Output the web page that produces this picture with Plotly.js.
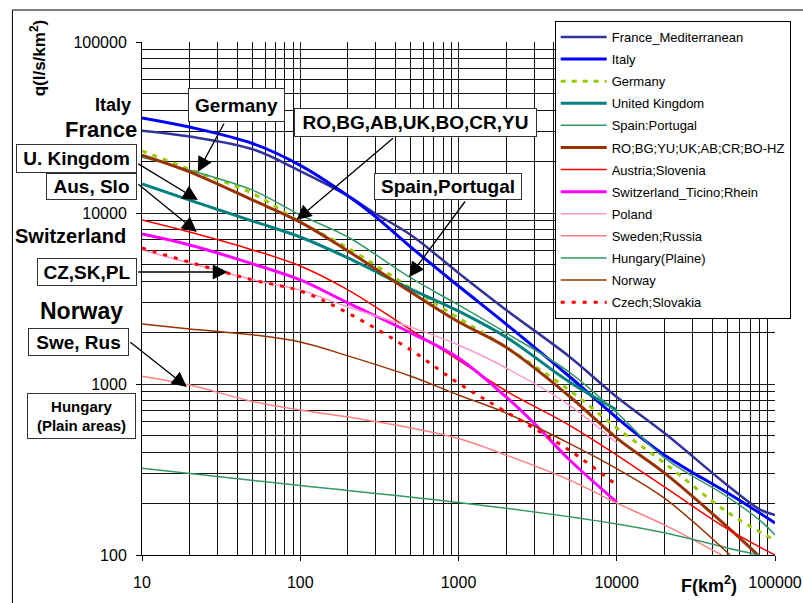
<!DOCTYPE html>
<html><head><meta charset="utf-8">
<script src="https://cdn.plot.ly/plotly-3.0.1.min.js"></script>
<style>html,body{margin:0;padding:0;background:#fff}#chart{width:803px;height:603px}</style>
</head><body><div id="chart"></div>
<script>
// ---- data (F in km2, q in l/s/km2) ----
const franceF  = [10,20,50,100,200,300,500,1000,2000,5000,10000,20000,50000,80000,100000];
const franceQ  = [30300,28000,23600,17600,12600,9900,7430,4460,2710,1450,840,517,256,185,171];
const italyF   = [10,20,50,100,200,300,500,1000,2000,5000,10000,20000,50000,80000,100000];
const italyQ   = [36000,31800,25500,19000,12600,9500,6320,3740,2240,1110,635,385,231,176,154];
const germanyF = [10,20,50,100,200,500,1000,2000,5000,10000,20000,50000,100000];
const germanyQ = [23100,18000,13000,8850,6240,3640,2430,1640,922,553,345,178,122];
const ukF      = [10,20,50,100,200,500,1000,2000,5000,10000];
const ukQ      = [14800,11900,8970,7240,5460,3590,2670,1880,1030,705];
const spainF   = [10,20,50,100,200,500,1000,2000,5000,10000,20000,50000,80000,100000];
const spainQ   = [21200,17800,13600,9730,7240,4170,2900,1990,1175,680,370,219,160,131];
const roF      = [10,20,50,100,200,500,1000,2000,5000,10000,20000,50000,78000];
const roQ      = [21800,17400,11900,8850,6000,3450,2310,1640,851,483,302,146,100];
const austriaF = [10,20,50,100,200,500,1000,2000,5000,10000,20000,50000,100000];
const austriaQ = [9100,7740,6080,4900,3550,2070,1380,910,575,384,250,142,100];
const swissF   = [10,20,50,100,200,500,1000,2000,3000,5000,10000];
const swissQ   = [7530,6500,5040,4060,2980,1990,1420,840,590,362,204];
const polandF  = [10,20,50,100,200,500,1000,2000,5000,10000];
const polandQ  = [6080,5100,4080,3550,2820,2150,1690,1240,753,452];
const swedenF  = [10,20,50,100,200,500,1000,2000,5000,10000,20000,46000];
const swedenQ  = [1110,986,790,705,641,553,480,384,275,201,150,100];
const hungaryF = [10,100,1000,10000,20000,50000,80000];
const hungaryQ = [322,255,203,152,135,110,100];
const norwayF  = [10,20,50,100,200,500,1000,2000,5000,10000,20000,52000];
const norwayQ  = [2240,2100,1940,1760,1460,1110,863,676,450,320,215,100];
const czechF   = [10,20,50,100,200,500,1000,2000,5000,10000];
const czechQ   = [6240,5160,4060,3500,2600,1580,1010,686,411,256];

const seriesNames = ['France_Mediterranean','Italy','Germany','United Kingdom','Spain:Portugal',
  'RO;BG;YU;UK;AB;CR;BO-HZ','Austria;Slovenia','Switzerland_Ticino;Rhein','Poland','Sweden;Russia',
  'Hungary(Plaine)','Norway','Czech;Slovakia'];
const xTickVals = [10,100,1000,10000,100000];
const xTickText = ['10','100','1000','10000','100000'];
const yTickVals = [100,1000,10000,100000];
const yTickText = ['100','1000','10000','100000'];

// ---- layout helpers ----
const W=803,H=603,M={l:142,r:26,t:42,b:48};
const PW=W-M.l-M.r, PH=H-M.t-M.b;
const px=x=>(x-M.l)/PW, py=y=>(H-M.b-y)/PH;
const FONT='"Liberation Sans", Arial, Helvetica, sans-serif';

function tr(name,x,y,color,width,dash){
  return {type:'scatter',mode:'lines',name:name,x:x,y:y,legendgroup:name,hoverinfo:'skip',
    line:{color:color,width:width,dash:dash||'solid',shape:'spline',smoothing:1}};
}
const data=[
  tr(seriesNames[0],franceF,franceQ,'#333399',2.5),
  tr(seriesNames[1],italyF,italyQ,'#0000FF',3),
  tr(seriesNames[2],germanyF,germanyQ,'#99CC00',3,'5px,6px'),
  tr(seriesNames[3],ukF,ukQ,'#008080',3),
  tr(seriesNames[4],spainF,spainQ,'#339966',1.5),
  tr(seriesNames[5],roF,roQ,'#993300',3),
  tr(seriesNames[6],austriaF,austriaQ,'#FF0000',1.5),
  tr(seriesNames[7],swissF,swissQ,'#FF00FF',3),
  tr(seriesNames[8],polandF,polandQ,'#FF99CC',1.5),
  tr(seriesNames[9],swedenF,swedenQ,'#FF8080',1.5),
  tr(seriesNames[10],hungaryF,hungaryQ,'#339966',1.5),
  tr(seriesNames[11],norwayF,norwayQ,'#993300',1.5),
  tr(seriesNames[12],czechF,czechQ,'#FF0000',3,'4px,7px')
];

// boxed labels: [text, cx, cy, w, h, size]
const boxes=[
  ['Germany',236.5,105,97,34,19],
  ['RO,BG,AB,UK,BO,CR,YU',416.5,122.5,243,29,19],
  ['Spain,Portugal',449,186.5,148,27,19],
  ['U. Kingdom',76.5,158.5,121,29,19],
  ['Aus, Slo',91.5,186.5,91,27,19],
  ['CZ,SK,PL',87,272,100,28,19],
  ['Swe, Rus',78.5,342,101,28,19],
  ['Hungary<br>(Plain areas)',81.5,416,109,46,15]
];
// plain bold labels: [text, right x, cy, size]
const plain=[
  ['Italy',133,105,18],['France',139,129,22],['Switzerland',128,236,20],['Norway',125,311,23]
];
// arrows: [tailx, taily, tipx, tipy]
const arrows=[
  [225,122,198,172],[395,137,297,220],[467,200,410,277],
  [137,163,198,200],[137,183,197,232],[137,272,228,272],[129,341,187,387]
];
const ann=[];
boxes.forEach(b=>ann.push({xref:'paper',yref:'paper',x:px(b[1]),y:py(b[2]),xanchor:'center',yanchor:'middle',
  text:'<b>'+b[0]+'</b>',showarrow:false,bgcolor:'#fff',bordercolor:'#333',borderwidth:1,borderpad:0,
  width:b[3]-2,height:b[4]-2,font:{family:FONT,size:b[5],color:'#000'}}));
plain.forEach(p=>ann.push({xref:'paper',yref:'paper',x:px(p[1]),y:py(p[2]),xanchor:'right',yanchor:'middle',
  text:'<b>'+p[0]+'</b>',showarrow:false,font:{family:FONT,size:p[3],color:'#000'}}));
arrows.forEach(a=>ann.push({xref:'paper',yref:'paper',x:px(a[2]),y:py(a[3]),ax:a[0]-a[2],ay:a[1]-a[3],
  text:'',showarrow:true,arrowhead:2,arrowsize:2.3,arrowwidth:1.3,arrowcolor:'#000'}));
ann.push({xref:'paper',yref:'paper',x:px(38),y:py(58),xanchor:'center',yanchor:'middle',textangle:-90,
  text:'<b>q(l/s/km<sup>2</sup>)</b>',showarrow:false,font:{family:FONT,size:17,color:'#000'}});
ann.push({xref:'paper',yref:'paper',x:px(711),y:py(585),xanchor:'center',yanchor:'middle',
  text:'<b>F(km<sup>2</sup>)</b>',showarrow:false,font:{family:FONT,size:18,color:'#000'}});

const axisCommon={type:'log',showline:true,linecolor:'#000',linewidth:1,ticks:'outside',ticklen:5,tickcolor:'#000',
  showgrid:true,gridcolor:'#222',gridwidth:1,zeroline:false,tickfont:{family:FONT,size:16,color:'#000'},
  minor:{dtick:'D1',showgrid:true,gridcolor:'#111',gridwidth:1,ticks:''}};
const layout={
  width:W,height:H,margin:M,paper_bgcolor:'#fff',plot_bgcolor:'#fff',font:{family:FONT,color:'#000'},
  xaxis:Object.assign({},axisCommon,{range:[1,5],tickvals:xTickVals,ticktext:xTickText,ticklabelstandoff:8}),
  yaxis:Object.assign({},axisCommon,{range:[2,5],tickvals:yTickVals,ticktext:yTickText,ticklabelstandoff:6}),
  showlegend:true,
  legend:{x:px(556),y:py(21),xanchor:'left',yanchor:'top',bgcolor:'#fff',bordercolor:'#000',borderwidth:1,
    font:{family:FONT,size:13,color:'#000'},tracegroupgap:2.2,traceorder:'grouped',itemwidth:46,entrywidth:280},
  annotations:ann,
  shapes:[{type:'rect',xref:'paper',yref:'paper',x0:px(12),y0:py(10),x1:px(840),y1:py(640),
    line:{color:'#000',width:1},fillcolor:'rgba(0,0,0,0)',layer:'below'}]
};
Plotly.newPlot('chart',data,layout,{staticPlot:true,displayModeBar:false});
</script></body></html>
